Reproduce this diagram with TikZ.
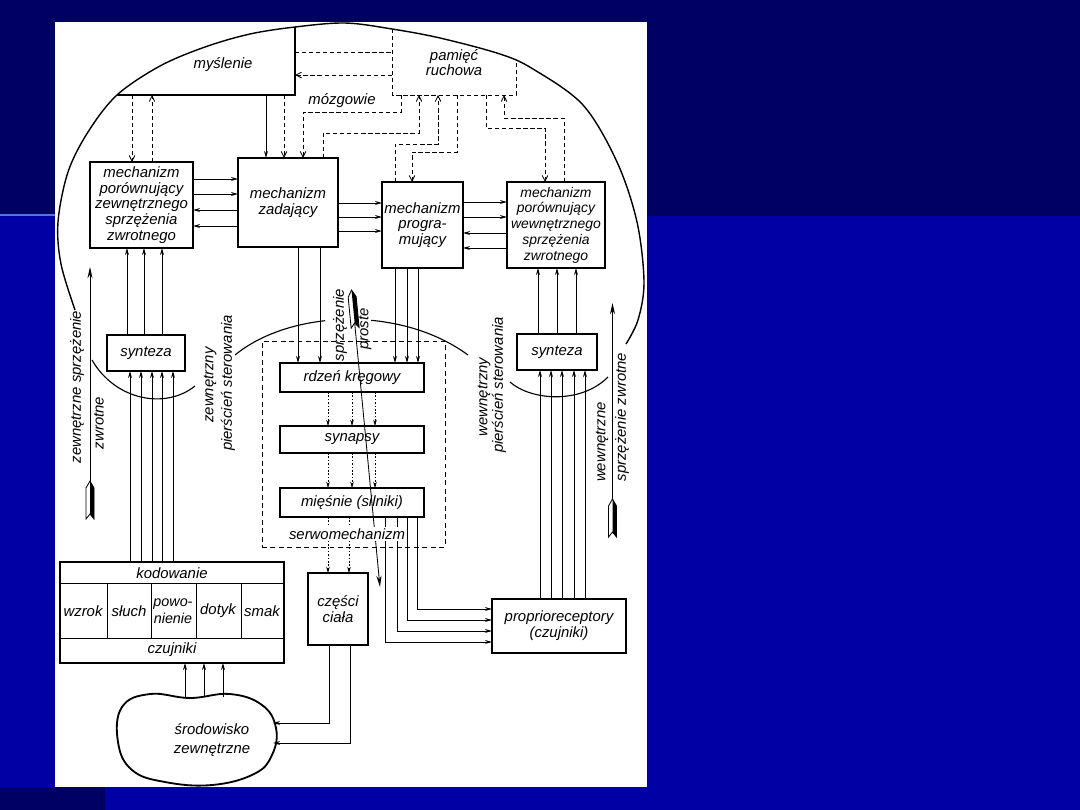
\documentclass[tikz,border=0pt]{standalone}
\usepackage{fontspec}
\setmainfont{Liberation Sans}
\usetikzlibrary{arrows.meta,calc}
\newdimen\pxu \pxu=0.025cm
\newcommand\diagfont{\itshape\fontsize{10.6}{11.2}\selectfont}
\definecolor{navy}{RGB}{0,0,100}
\definecolor{slideblue}{RGB}{0,0,165}
\definecolor{glow}{RGB}{70,120,235}
\tikzset{
  lbl/.style={font=\diagfont, align=center, inner sep=0pt, outer sep=0pt},
  box/.style={draw, line width=1.3pt, inner sep=0pt, outer sep=0pt, font=\diagfont, align=center},
  ghost/.style={inner sep=0pt, outer sep=0pt, font=\diagfont, align=center},
  sig/.style={line width=0.6pt, -{Stealth[length=5pt,width=2.8pt]}},
  bigsig/.style={line width=0.6pt, -{Stealth[length=8pt,width=3.6pt]}},
  dsig/.style={line width=0.6pt, dash pattern=on 3pt off 2pt, -{Straight Barb[length=4pt,width=4pt]}},
  dline/.style={line width=0.6pt, dash pattern=on 3pt off 2pt},
  fsig/.style={line width=0.45pt, dash pattern=on 1.2pt off 1.2pt, -{Stealth[length=4.5pt,width=2.6pt]}},
  brain/.style={line width=1pt},
  arcline/.style={line width=0.8pt},
  tailshape/.style={line width=0.6pt, fill=white},
}
\begin{document}
\begin{tikzpicture}[x=0.025cm,y=-0.025cm]
\useasboundingbox (0,0) rectangle (1080,810);
% slide background
\fill[slideblue] (0,0) rectangle (1080,810);
\fill[navy] (0,0) rectangle (1080,216);
\fill[navy] (0,787) rectangle (105,810);
\draw[glow, line width=1.5pt] (0,215) -- (60,215);
\fill[white] (55,22) rectangle (647,787);

% brain outline
\begin{scope}
\clip (55,22) rectangle (647,787);
\draw[brain] plot[smooth, tension=0.55] coordinates {(75,310) (61,264) (58,222) (68,172) (88,132) (117,95) (160,66) (205,47) (250,34) (295,27) (345,23) (392,29) (440,38) (500,54) (533,69) (583,105) (617,162) (637,222) (644,282) (638,320) (626,344)};
\end{scope}

% myslenie and pamiec
\node[ghost, minimum width=178\pxu, minimum height=68\pxu] (mysl) at (206,61) {};
\draw[line width=1.3pt] (117,95) -- (mysl.south east) -- (295,27);
\node[lbl] (myslT) at (223,65) {myślenie};
\node[ghost, minimum width=124\pxu, minimum height=65\pxu] (pam) at (454,62.5) {pamięć\\ruchowa};
\draw[dline] (392,29) -- (pam.south west) -- (pam.south east) -- (516,62);
\node[lbl] (mozg) at (342,101) {mózgowie};

% main boxes
\node[box, minimum width=103\pxu, minimum height=86\pxu] (A) at (141.5,205) {mechanizm\\porównujący\\zewnętrznego\\sprzężenia\\zwrotnego};
\node[box, minimum width=100\pxu, minimum height=89\pxu] (B) at (288,202.5) {mechanizm\\zadający};
\node[box, minimum width=81\pxu, minimum height=86\pxu] (C) at (422.5,225) {mechanizm\\progra-\\mujący};
\node[box, minimum width=98\pxu, minimum height=86\pxu, font=\itshape\fontsize{9.9}{11.2}\selectfont] (D) at (556,225) {mechanizm\\porównujący\\wewnętrznego\\sprzężenia\\zwrotnego};
\node[box, minimum width=78\pxu, minimum height=36\pxu] (synL) at (146,353) {synteza};
\node[box, minimum width=80\pxu, minimum height=36\pxu] (synR) at (557,352) {synteza};
\node[draw, line width=0.6pt, dash pattern=on 3.5pt off 2.5pt, inner sep=0pt, outer sep=0pt, minimum width=183\pxu, minimum height=206\pxu] (servo) at (353.5,444) {};
\node[box, minimum width=144\pxu, minimum height=29\pxu] (rdzen) at (352,377.5) {rdzeń kręgowy};
\node[box, minimum width=144\pxu, minimum height=27\pxu] (synapsy) at (352,439.5) {synapsy};
\node[box, minimum width=144\pxu, minimum height=29\pxu] (miesnie) at (352,502.5) {mięśnie (silniki)};
\node[box, minimum width=60\pxu, minimum height=72\pxu] (czesci) at (338,609) {części\\ciała};
\node[box, minimum width=134\pxu, minimum height=54\pxu] (proprio) at (559,626) {proprioreceptory\\(czujniki)};

% kodowanie / czujniki block
\node[box, minimum width=224\pxu, minimum height=101\pxu] (kod) at (172,612.5) {};
\draw[line width=0.6pt] (kod.west |- 0,583) -- (kod.east |- 0,583);
\draw[line width=0.6pt] (kod.west |- 0,638) -- (kod.east |- 0,638);
\foreach \x in {107,151,196,241} \draw[line width=0.5pt] (\x,583) -- (\x,638);
\node[lbl] (kodT) at (172,573) {kodowanie};
\node[lbl] (czujT) at (172,650) {czujniki};
\node[lbl] (wzrok) at (83,611) {wzrok};
\node[lbl] (sluch) at (129,611) {słuch};
\node[lbl, font=\itshape\fontsize{10.2}{12}\selectfont] (powon) at (173,611) {powo-\\nienie};
\node[lbl] (dotyk) at (218,611) {dotyk};
\node[lbl] (smak) at (262,611) {smak};

% srodowisko zewnetrzne
\draw[line width=1.3pt] plot[smooth cycle, tension=0.7] coordinates {(122,707) (150,694) (190,698) (230,694) (262,705) (276,728) (272,755) (254,774) (212,785) (165,782) (132,770) (118,742)};
\node[lbl, font=\itshape\fontsize{10.6}{13.5}\selectfont] (srod) at (212,740) {środowisko\\zewnętrzne};
\coordinate (srodN) at (0,697);
\coordinate (srodE1) at (273,723);
\coordinate (srodE2) at (273,743);

% control rings
\draw[arcline] (92,360) .. controls (115,400) and (165,410) .. (195,386);
\draw[arcline] (510,382) .. controls (530,400) and (580,405) .. (608,377);
\begin{scope}
\clip (0,0) rectangle (325,810) (371,0) rectangle (1080,810);
\draw[arcline] (235,355) .. controls (290,310) and (400,305) .. (468,355);
\end{scope}

% myslenie connectors
\draw[dsig] (132,0 |- mysl.south) -- (132,0 |- A.north);
\draw[dsig] (152,0 |- A.north) -- (152,0 |- mysl.south);
\draw[sig] (266,0 |- mysl.south) -- (266,0 |- B.north);
\draw[dsig] (284,0 |- mysl.south) -- (284,0 |- B.north);
\draw[dline] (mysl.east |- 0,52) -- (pam.west |- 0,52);
\draw[dsig] (pam.west |- 0,75) -- (mysl.east |- 0,75);

% pamiec connectors
\draw[dsig] (401,0 |- pam.south) -- (401,112) -- (303,112) -- (303,0 |- B.north);
\draw[dsig] (323,0 |- B.north) -- (323,133) -- (419,133) -- (419,0 |- pam.south);
\draw[dsig] (395,0 |- C.north) -- (395,144) -- (438,144) -- (438,0 |- pam.south);
\draw[dsig] (457,0 |- pam.south) -- (457,152) -- (412,152) -- (412,0 |- C.north);
\draw[dsig] (486,0 |- pam.south) -- (486,128) -- (545,128) -- (545,0 |- D.north);
\draw[dsig] (564,0 |- D.north) -- (564,118) -- (504,118) -- (504,0 |- pam.south);

% horizontal links
\foreach \y in {179,194} \draw[sig] (A.east |- 0,\y) -- (B.west |- 0,\y);
\foreach \y in {210,226} \draw[sig] (B.west |- 0,\y) -- (A.east |- 0,\y);
\foreach \y in {203,217,231} \draw[sig] (B.east |- 0,\y) -- (C.west |- 0,\y);
\foreach \y in {202,217} \draw[sig] (C.east |- 0,\y) -- (D.west |- 0,\y);
\foreach \y in {233,248} \draw[sig] (D.west |- 0,\y) -- (C.east |- 0,\y);

% vertical links
\foreach \x in {127,144,162} \draw[sig] (\x,0 |- synL.north) -- (\x,0 |- A.south);
\foreach \x in {130,141,152,162,173} \draw[sig] (\x,0 |- kod.north) -- (\x,0 |- synL.south);
\foreach \x in {538,557,576} \draw[sig] (\x,0 |- synR.north) -- (\x,0 |- D.south);
\foreach \x in {540,551,562,574,585} \draw[sig] (\x,0 |- proprio.north) -- (\x,0 |- synR.south);
\foreach \x in {298,320} \draw[sig] (\x,0 |- B.south) -- (\x,0 |- rdzen.north);
\foreach \x in {395,407,418} \draw[sig] (\x,0 |- C.south) -- (\x,0 |- rdzen.north);
\foreach \x in {328,352,375} {
  \draw[fsig] (\x,0 |- rdzen.south) -- (\x,0 |- synapsy.north);
  \draw[fsig] (\x,0 |- synapsy.south) -- (\x,0 |- miesnie.north);
}
\foreach \x in {328,349} \draw[fsig] (\x,0 |- miesnie.south) -- (\x,0 |- czesci.north);
\foreach \x/\y in {385/642,397/631,407/620,417/609} \draw[sig] (\x,0 |- miesnie.south) |- (proprio.west |- 0,\y);
\draw[sig] (329,0 |- czesci.south) |- (srodE1);
\draw[sig] (350,0 |- czesci.south) |- (srodE2);
\foreach \x in {185,204,223} \draw[sig] (\x,0 |- srodN) -- (\x,0 |- kod.south);

% feedback arrows with tails
\coordinate (fbLtail) at (90,481);
\coordinate (fbLhead) at (90,267);
\draw[bigsig] (fbLtail) -- (fbLhead);
\draw[tailshape] (90,481) -- (94,488) -- (94,519) -- (90,514) -- (86,519) -- (86,488) -- cycle;
\fill (90,481) -- (94,488) -- (94,519) -- (90,514) -- cycle;

\coordinate (fbRtail) at (612.5,499);
\coordinate (fbRhead) at (612.5,303);
\draw[bigsig] (fbRtail) -- (fbRhead);
\draw[tailshape] (612.5,499) -- (616.5,506) -- (616.5,537) -- (612.5,532) -- (608.5,537) -- (608.5,506) -- cycle;
\fill (612.5,499) -- (616.5,506) -- (616.5,537) -- (612.5,532) -- cycle;

\coordinate (spTail) at (354.66,322.85);
\coordinate (spHead) at (380,587);
\draw[bigsig] (spTail) -- (spHead);
\draw[tailshape] (351.5,290) -- (356.15,296.59) -- (359.12,327.45) -- (354.66,322.85) -- (351.16,328.21) -- (348.19,297.35) -- cycle;
\fill (351.5,290) -- (356.15,296.59) -- (359.12,327.45) -- (354.66,322.85) -- cycle;

% rotated labels
\node[lbl, rotate=90] (lzs) at (77,387) {zewnętrzne sprzężenie};
\node[lbl, rotate=90] (lzw) at (99,423) {zwrotne};
\node[lbl, rotate=90] (lzp1) at (210,385) {zewnętrzny};
\node[lbl, rotate=90] (lzp2) at (228,383) {pierścień sterowania};
\node[lbl, rotate=90] (lsp1) at (340,325) {sprzężenie};
\node[lbl, rotate=90] (lsp2) at (365,329) {proste};
\node[lbl, rotate=90] (lwp1) at (484,397) {wewnętrzny};
\node[lbl, rotate=90] (lwp2) at (499,385) {pierścień sterowania};
\node[lbl, rotate=90] (lws1) at (602,442) {wewnętrzne};
\node[lbl, rotate=90] (lws2) at (622,417) {sprzężenie zwrotne};
\node[lbl, fill=white, inner sep=1pt] (serwo) at (347,534) {serwomechanizm};
\end{tikzpicture}
\end{document}
